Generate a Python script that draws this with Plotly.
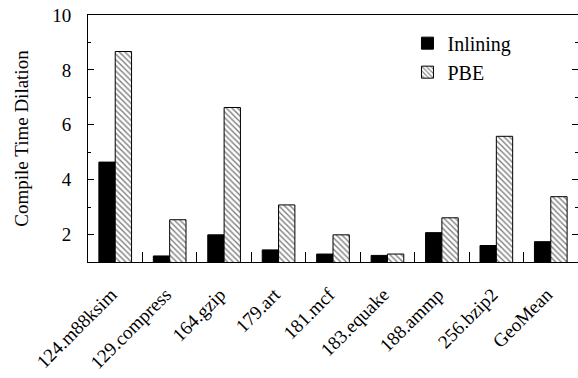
import plotly.graph_objects as go

categories = ["124.m88ksim", "129.compress", "164.gzip", "179.art", "181.mcf",
              "183.equake", "188.ammp", "256.bzip2", "GeoMean"]
inlining = [4.64, 1.22, 1.99, 1.44, 1.29, 1.24, 2.07, 1.60, 1.74]
pbe = [8.67, 2.54, 6.63, 3.08, 1.99, 1.29, 2.61, 5.58, 3.38]

FONT = "Liberation Serif"

fig = go.Figure()
fig.add_trace(go.Bar(
    name="Inlining", x=categories, y=inlining,
    marker=dict(color="black", line=dict(color="black", width=1)),
))
fig.add_trace(go.Bar(
    name="PBE", x=categories, y=pbe,
    marker=dict(color="white", line=dict(color="black", width=1),
                pattern=dict(shape="\\", fgcolor="black", bgcolor="white",
                             size=4, solidity=0.35)),
))

fig.update_layout(
    width=578, height=378,
    margin=dict(l=88, r=0, t=15, b=116, autoexpand=False),
    paper_bgcolor="white", plot_bgcolor="white",
    barmode="group", bargap=0.4, bargroupgap=0.0,
    font=dict(family=FONT, size=19, color="black"),
    showlegend=True,
    legend=dict(x=0.652, y=0.965, xanchor="left", yanchor="top",
                bgcolor="rgba(0,0,0,0)", font=dict(family=FONT, size=20),
                tracegroupgap=0, itemwidth=30),
    xaxis=dict(
        type="category", tickson="boundaries", ticks="inside", ticklen=10,
        tickwidth=1, tickcolor="black", showline=True, linecolor="black",
        linewidth=1, mirror=True, showgrid=False, tickangle=-45,
        tickfont=dict(family=FONT, size=19), zeroline=False, automargin=False,
        ticklabelstandoff=13, ticklabelshift=-4,
    ),
    yaxis=dict(
        range=[1, 10], tickvals=[2, 4, 6, 8, 10], ticks="inside", ticklen=6,
        tickwidth=1, tickcolor="black", showline=True, linecolor="black",
        linewidth=1, mirror="ticks", showgrid=False, zeroline=False,
        tickfont=dict(family=FONT, size=19), automargin=False,
        ticklabelstandoff=12,
        minor=dict(dtick=1, tick0=0, ticks="inside", ticklen=3,
                   tickcolor="black", showgrid=False),
        title=dict(text="Compile Time Dilation", font=dict(family=FONT, size=19),
                   standoff=18),
    ),
)

fig.write_html(
    "out.html",
    config={"displayModeBar": False},
    post_script="document.body.style.margin='0';document.body.style.overflow='hidden';",
)
